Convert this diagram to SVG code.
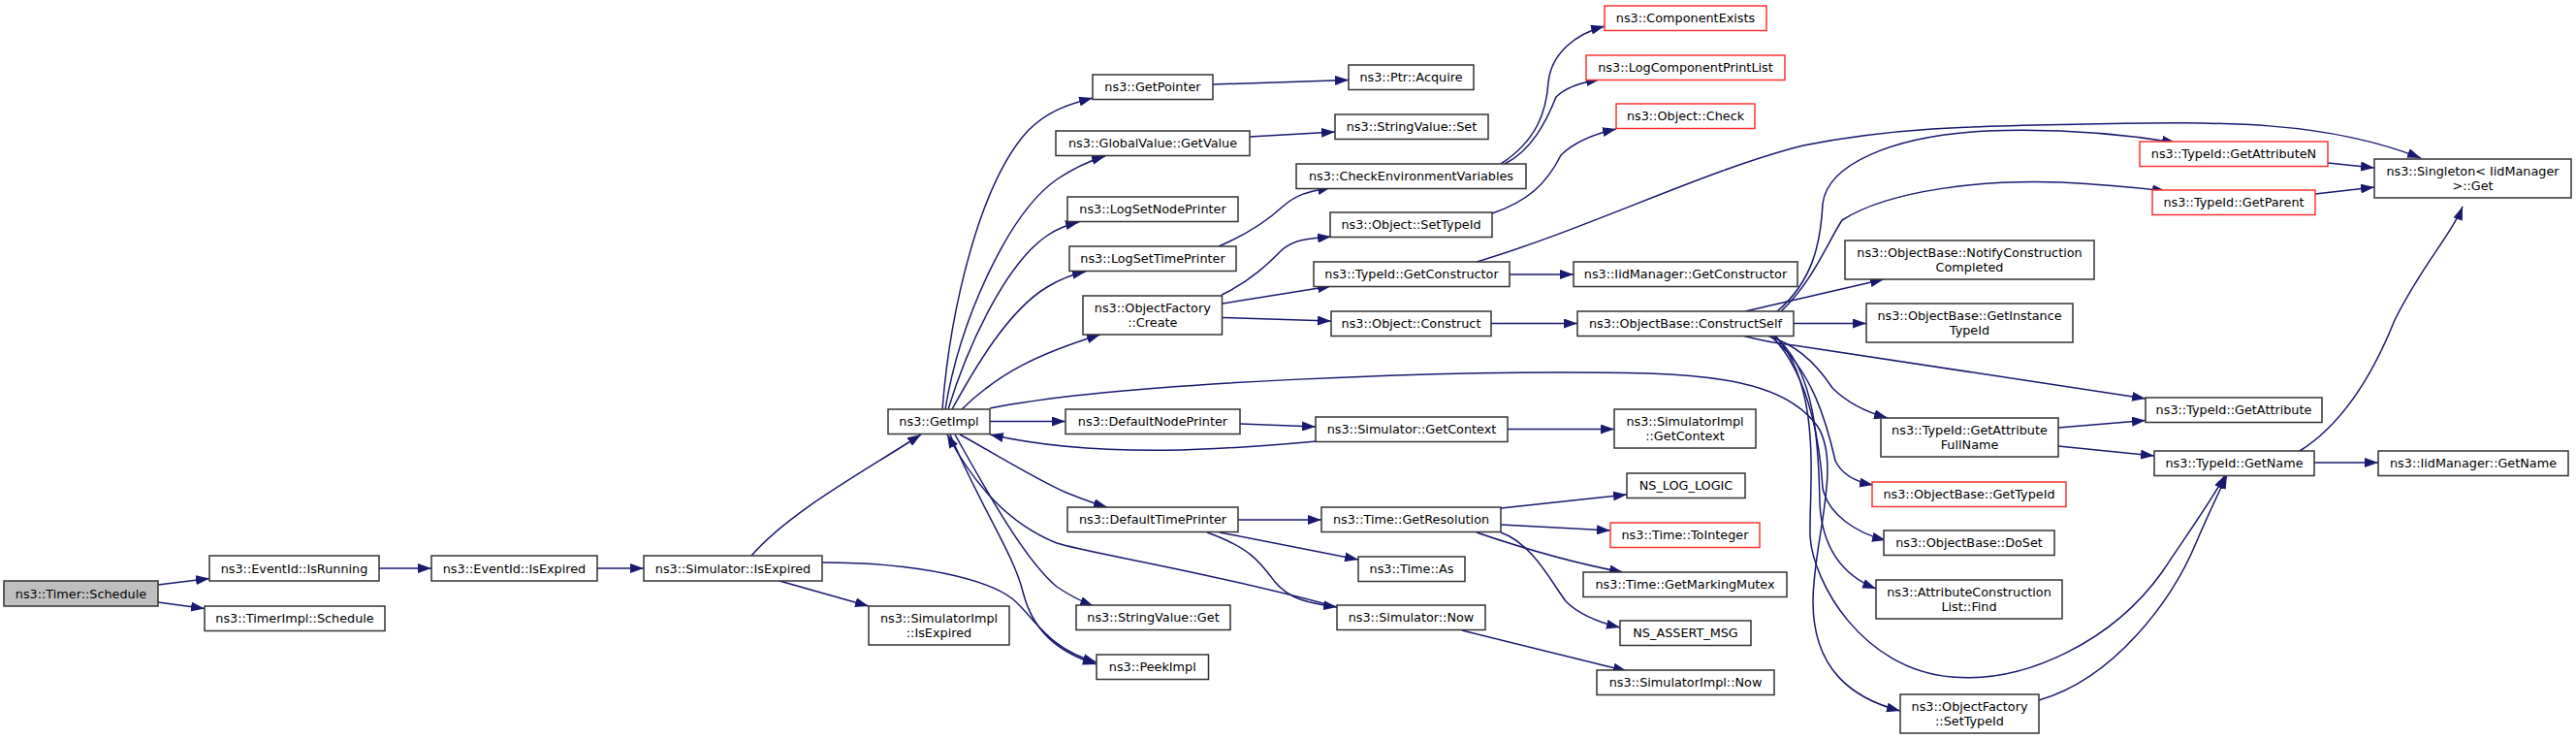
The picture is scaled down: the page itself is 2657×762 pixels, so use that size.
<svg xmlns="http://www.w3.org/2000/svg" width="2657" height="762" viewBox="0 0 2657 762">
<defs>
<marker id="ah" markerWidth="14" markerHeight="10" refX="14" refY="5" orient="auto" markerUnits="userSpaceOnUse"><path d="M0,0 L14,5 L0,10 z" fill="#191970"/></marker>
<style>
.node rect{fill:#ffffff;stroke:#333333;stroke-width:1.5}
.node.red rect{stroke:#ff3333}
.node.root rect{fill:#bfbfbf}
.node text{font-family:"DejaVu Sans",sans-serif;font-size:12.8px;fill:#000000;text-anchor:middle}
.edges path{fill:none;stroke:#191970;stroke-width:1.5;marker-end:url(#ah)}
</style>
</defs>
<rect width="2657" height="762" fill="#ffffff"/>
<g id="edges" class="edges">
<path d="M163,603 L216,596.5"/>
<path d="M163,621 L211,627.5"/>
<path d="M391,586 L445,586"/>
<path d="M616,586 L664,586"/>
<path d="M775,573 C815,527 890,487 950,448"/>
<path d="M804,599 L896,625"/>
<path d="M848,580 C950,580 1020,598 1045,618 C1070,640 1080,668 1131,683"/>
<path d="M980,448 C1010,520 1045,570 1055,610 C1065,650 1090,672 1131,685"/>
<path d="M1379,626 C1250,590 1120,570 1090,560 C1040,540 1005,500 977,448"/>
<path d="M1245,549 C1290,565 1300,580 1315,600 C1330,618 1350,622 1379,626"/>
<path d="M985,448 C1025,520 1060,580 1090,605 C1105,615 1115,620 1128,625"/>
<path d="M990,448 C1030,470 1070,495 1100,508 C1115,514 1128,519 1142,523"/>
<path d="M1021,434.5 L1099,434.5"/>
<path d="M1279,437 L1357,440"/>
<path d="M1357,455 C1280,462 1140,475 1021,448"/>
<path d="M972,422 C980,320 1010,190 1060,135 C1080,115 1100,108 1127,101"/>
<path d="M975,422 C990,330 1040,220 1090,185 C1105,175 1120,167 1140,161"/>
<path d="M978,422 C1000,350 1040,270 1080,243 C1090,236 1100,232 1113,229"/>
<path d="M982,422 C1005,380 1040,320 1080,296 C1095,287 1105,283 1120,280"/>
<path d="M992,422 C1030,385 1070,365 1135,345"/>
<path d="M1021,421 C1150,395 1500,380 1700,385 C1800,388 1850,405 1875,440 C1900,480 1870,560 1870,620 C1870,690 1910,720 1960,733"/>
<path d="M1257,254 C1290,240 1310,225 1323,213 C1340,198 1355,197 1373,193"/>
<path d="M1260,304 C1290,290 1310,270 1323,257 C1338,245 1355,246 1373,244"/>
<path d="M1261,313 L1373,295"/>
<path d="M1261,327.5 L1373,331"/>
<path d="M1251,87 L1391,82.5"/>
<path d="M1289,141 L1377,136"/>
<path d="M1548,169 C1585,145 1595,115 1597,85 C1600,55 1625,35 1655,27"/>
<path d="M1552,169 C1580,155 1595,125 1605,100 C1615,90 1630,85 1650,82"/>
<path d="M1539,220 C1575,208 1595,190 1610,160 C1625,145 1645,138 1667,133"/>
<path d="M1523,270 C1640,235 1760,175 1860,150 C1960,130 2050,130 2150,128 C2300,125 2400,125 2497,163"/>
<path d="M1557,283 L1623,283"/>
<path d="M1538,333.5 L1627,333.5"/>
<path d="M1833,321 C1870,290 1878,250 1880,210 C1885,170 1950,140 2050,135 C2130,132 2200,140 2244,147"/>
<path d="M1837,321 C1870,290 1885,250 1900,227 C1950,195 2050,185 2126,188 C2170,190 2200,193 2234,197"/>
<path d="M1800,321 L1943,288"/>
<path d="M1850,333.5 L1925,333.5"/>
<path d="M1797,346 C1820,352 1840,355 1850,356 L2213,411"/>
<path d="M1823,346 C1850,355 1870,370 1890,400 C1905,415 1925,425 1947,431"/>
<path d="M1825,346 C1870,380 1885,440 1893,475 C1900,490 1915,497 1932,500"/>
<path d="M1827,346 C1870,390 1878,470 1880,503 C1885,530 1915,550 1945,557"/>
<path d="M1829,346 C1875,380 1876,470 1877,520 C1880,570 1905,595 1935,607"/>
<path d="M1831,346 C1880,400 1866,500 1867,553 C1870,600 1920,690 2013,698 C2090,705 2180,660 2230,590 C2260,545 2285,510 2295,490"/>
<path d="M2103,722 C2180,700 2240,620 2265,560 C2280,525 2290,505 2297,490"/>
<path d="M2123,441 L2213,433.5"/>
<path d="M2123,460 L2222,470"/>
<path d="M2401,168 L2449,173"/>
<path d="M2388,200 L2449,193"/>
<path d="M2372,465 C2420,435 2450,380 2470,330 C2500,270 2530,240 2540,213"/>
<path d="M2387,477 L2453,477"/>
<path d="M1555,442.5 L1665,442.5"/>
<path d="M1277,536 L1363,536"/>
<path d="M1258,549 L1401,577"/>
<path d="M1548,524 L1678,510"/>
<path d="M1548,541 L1661,547"/>
<path d="M1523,549 C1570,565 1620,580 1674,590"/>
<path d="M1548,549 C1580,560 1600,600 1615,620 C1630,635 1650,642 1671,647"/>
<path d="M1508,650 L1678,692"/>
</g>
<g id="n_timer_schedule" class="node root"><rect x="4" y="599" width="159" height="26"/><text x="83.5" y="616.5">ns3::Timer::Schedule</text></g>
<g id="n_eventid_isrunning" class="node"><rect x="216" y="573" width="175" height="26"/><text x="303.5" y="590.5">ns3::EventId::IsRunning</text></g>
<g id="n_timerimpl_schedule" class="node"><rect x="211" y="625" width="186" height="25.5"/><text x="304" y="642.2">ns3::TimerImpl::Schedule</text></g>
<g id="n_eventid_isexpired" class="node"><rect x="445" y="573" width="171" height="26"/><text x="530.5" y="590.5">ns3::EventId::IsExpired</text></g>
<g id="n_simulator_isexpired" class="node"><rect x="664" y="573" width="184" height="26"/><text x="756" y="590.5">ns3::Simulator::IsExpired</text></g>
<g id="n_getimpl" class="node"><rect x="916" y="422" width="105" height="25.5"/><text x="968.5" y="439.2">ns3::GetImpl</text></g>
<g id="n_simulatorimpl_isexpired" class="node"><rect x="896" y="625" width="145" height="40"/><text x="968.5" y="642">ns3::SimulatorImpl</text><text x="968.5" y="656.5">::IsExpired</text></g>
<g id="n_getpointer" class="node"><rect x="1127" y="77" width="124" height="25.5"/><text x="1189" y="94.2">ns3::GetPointer</text></g>
<g id="n_globalvalue_getvalue" class="node"><rect x="1089" y="135" width="200" height="25.5"/><text x="1189" y="152.2">ns3::GlobalValue::GetValue</text></g>
<g id="n_logsetnodeprinter" class="node"><rect x="1101" y="203" width="176" height="25.5"/><text x="1189" y="220.2">ns3::LogSetNodePrinter</text></g>
<g id="n_logsettimeprinter" class="node"><rect x="1103" y="254" width="172" height="25.5"/><text x="1189" y="271.2">ns3::LogSetTimePrinter</text></g>
<g id="n_objectfactory_create" class="node"><rect x="1117" y="305" width="143.5" height="40"/><text x="1188.8" y="322">ns3::ObjectFactory</text><text x="1188.8" y="336.5">::Create</text></g>
<g id="n_defaultnodeprinter" class="node"><rect x="1099" y="422" width="180" height="25.5"/><text x="1189" y="439.2">ns3::DefaultNodePrinter</text></g>
<g id="n_defaulttimeprinter" class="node"><rect x="1101" y="523" width="176" height="25.5"/><text x="1189" y="540.2">ns3::DefaultTimePrinter</text></g>
<g id="n_stringvalue_get" class="node"><rect x="1110" y="624" width="159" height="25.5"/><text x="1189.5" y="641.2">ns3::StringValue::Get</text></g>
<g id="n_peekimpl" class="node"><rect x="1131" y="675" width="115.5" height="25.5"/><text x="1188.8" y="692.2">ns3::PeekImpl</text></g>
<g id="n_ptr_acquire" class="node"><rect x="1391" y="67" width="129" height="25.5"/><text x="1455.5" y="84.2">ns3::Ptr::Acquire</text></g>
<g id="n_stringvalue_set" class="node"><rect x="1377" y="118" width="158" height="25.5"/><text x="1456" y="135.2">ns3::StringValue::Set</text></g>
<g id="n_checkenvironmentvariables" class="node"><rect x="1337" y="169" width="237" height="25.5"/><text x="1455.5" y="186.2">ns3::CheckEnvironmentVariables</text></g>
<g id="n_object_settypeid" class="node"><rect x="1372" y="219" width="167" height="25.5"/><text x="1455.5" y="236.2">ns3::Object::SetTypeId</text></g>
<g id="n_typeid_getconstructor" class="node"><rect x="1355" y="270" width="202" height="25.5"/><text x="1456" y="287.2">ns3::TypeId::GetConstructor</text></g>
<g id="n_object_construct" class="node"><rect x="1373" y="321" width="165" height="25.5"/><text x="1455.5" y="338.2">ns3::Object::Construct</text></g>
<g id="n_simulator_getcontext" class="node"><rect x="1357" y="430" width="198" height="25.5"/><text x="1456" y="447.2">ns3::Simulator::GetContext</text></g>
<g id="n_time_getresolution" class="node"><rect x="1363" y="523" width="185" height="25.5"/><text x="1455.5" y="540.2">ns3::Time::GetResolution</text></g>
<g id="n_time_as" class="node"><rect x="1401" y="574" width="110" height="25.5"/><text x="1456" y="591.2">ns3::Time::As</text></g>
<g id="n_simulator_now" class="node"><rect x="1379" y="624" width="153" height="25.5"/><text x="1455.5" y="641.2">ns3::Simulator::Now</text></g>
<g id="n_componentexists" class="node red"><rect x="1655" y="6" width="167" height="25.5"/><text x="1738.5" y="23.2">ns3::ComponentExists</text></g>
<g id="n_logcomponentprintlist" class="node red"><rect x="1636" y="57" width="205" height="25.5"/><text x="1738.5" y="74.2">ns3::LogComponentPrintList</text></g>
<g id="n_object_check" class="node red"><rect x="1667" y="107" width="143" height="25.5"/><text x="1738.5" y="124.2">ns3::Object::Check</text></g>
<g id="n_iidmanager_getconstructor" class="node"><rect x="1623" y="270" width="231" height="25.5"/><text x="1738.5" y="287.2">ns3::IidManager::GetConstructor</text></g>
<g id="n_objectbase_constructself" class="node"><rect x="1627" y="321" width="223" height="25.5"/><text x="1738.5" y="338.2">ns3::ObjectBase::ConstructSelf</text></g>
<g id="n_simulatorimpl_getcontext" class="node"><rect x="1665" y="422" width="146" height="40"/><text x="1738" y="439">ns3::SimulatorImpl</text><text x="1738" y="453.5">::GetContext</text></g>
<g id="n_ns_log_logic" class="node"><rect x="1678" y="488" width="122" height="25.5"/><text x="1739" y="505.2">NS_LOG_LOGIC</text></g>
<g id="n_time_tointeger" class="node red"><rect x="1661" y="539" width="154" height="25.5"/><text x="1738" y="556.2">ns3::Time::ToInteger</text></g>
<g id="n_time_getmarkingmutex" class="node"><rect x="1633" y="590" width="210" height="25.5"/><text x="1738" y="607.2">ns3::Time::GetMarkingMutex</text></g>
<g id="n_ns_assert_msg" class="node"><rect x="1671" y="640" width="135" height="25.5"/><text x="1738.5" y="657.2">NS_ASSERT_MSG</text></g>
<g id="n_simulatorimpl_now" class="node"><rect x="1647" y="691" width="183" height="25.5"/><text x="1738.5" y="708.2">ns3::SimulatorImpl::Now</text></g>
<g id="n_notifyconstructioncompleted" class="node"><rect x="1903" y="248" width="257" height="40"/><text x="2031.5" y="265">ns3::ObjectBase::NotifyConstruction</text><text x="2031.5" y="279.5">Completed</text></g>
<g id="n_getinstancetypeid" class="node"><rect x="1925" y="313" width="213" height="40"/><text x="2031.5" y="330">ns3::ObjectBase::GetInstance</text><text x="2031.5" y="344.5">TypeId</text></g>
<g id="n_typeid_getattributefullname" class="node"><rect x="1940" y="431" width="183" height="40"/><text x="2031.5" y="448">ns3::TypeId::GetAttribute</text><text x="2031.5" y="462.5">FullName</text></g>
<g id="n_objectbase_gettypeid" class="node red"><rect x="1931" y="497" width="200" height="25.5"/><text x="2031" y="514.2">ns3::ObjectBase::GetTypeId</text></g>
<g id="n_objectbase_doset" class="node"><rect x="1943" y="547" width="176" height="25.5"/><text x="2031" y="564.2">ns3::ObjectBase::DoSet</text></g>
<g id="n_attributeconstructionlist_find" class="node"><rect x="1935" y="598" width="192" height="40"/><text x="2031" y="615">ns3::AttributeConstruction</text><text x="2031" y="629.5">List::Find</text></g>
<g id="n_objectfactory_settypeid" class="node"><rect x="1960" y="716" width="143" height="40"/><text x="2031.5" y="733">ns3::ObjectFactory</text><text x="2031.5" y="747.5">::SetTypeId</text></g>
<g id="n_typeid_getattributen" class="node red"><rect x="2207" y="146" width="194" height="25.5"/><text x="2304" y="163.2">ns3::TypeId::GetAttributeN</text></g>
<g id="n_typeid_getparent" class="node red"><rect x="2220" y="196" width="168" height="25.5"/><text x="2304" y="213.2">ns3::TypeId::GetParent</text></g>
<g id="n_typeid_getattribute" class="node"><rect x="2213" y="410" width="182" height="25.5"/><text x="2304" y="427.2">ns3::TypeId::GetAttribute</text></g>
<g id="n_typeid_getname" class="node"><rect x="2222" y="465" width="165" height="25.5"/><text x="2304.5" y="482.2">ns3::TypeId::GetName</text></g>
<g id="n_singleton_get" class="node"><rect x="2449" y="164" width="203" height="40"/><text x="2550.5" y="181">ns3::Singleton&lt; IidManager</text><text x="2550.5" y="195.5">&gt;::Get</text></g>
<g id="n_iidmanager_getname" class="node"><rect x="2453" y="465" width="196" height="25.5"/><text x="2551" y="482.2">ns3::IidManager::GetName</text></g>
</svg>
